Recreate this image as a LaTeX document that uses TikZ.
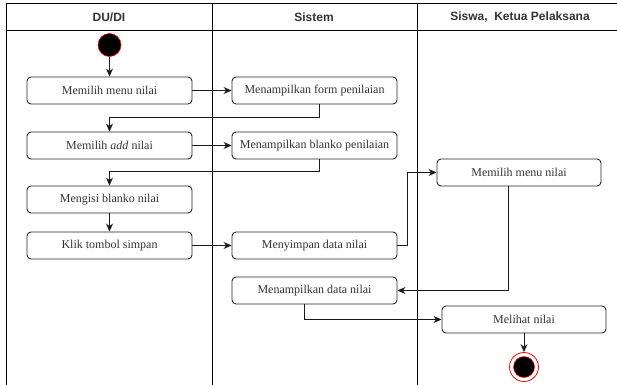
\documentclass[tikz,border=0pt]{standalone}
\usepackage{fontspec}
\setmainfont{Liberation Serif}
\newfontfamily\hdrfont{Liberation Sans}
\usetikzlibrary{arrows.meta,calc}
\begin{document}
\begin{tikzpicture}[x=1pt,y=-1pt,
  act/.style={draw=black!85,line width=0.9pt,rounded corners=4pt,minimum width=165pt,minimum height=27pt,
    inner sep=0pt,font=\fontsize{12}{14}\selectfont,text=black!80},
  lane/.style={draw=black,line width=1pt},
  hdr/.style={font=\hdrfont\bfseries\fontsize{12}{14}\selectfont,text=black!80},
  flow/.style={draw=black!90,line width=0.9pt,-{Stealth[length=8pt,width=7pt]}},
  startdot/.style={circle,fill=black,draw=red,line width=0.6pt,minimum size=23pt,inner sep=0pt},
]
\useasboundingbox (0,0) rectangle (617,385);

% swimlane frame
\draw[lane] (6,385) -- (6,4) -- (617,4);
\draw[lane] (6,31) -- (617,31);
\draw[lane] (212,4) -- (212,385);
\draw[lane] (417,4) -- (417,385);
\node[hdr] (h1) at (109,17.5) {DU/DI};
\node[hdr] (h2) at (314,17.5) {Sistem};
\node[hdr] (h3) at (520,17.5) {Siswa,\ \ Ketua Pelaksana};

% start node
\node[startdot] (start) at (109.5,45) {};

% activities: DU/DI
\node[act] (a1) at (109.5,90.5) {Memilih menu nilai};
\node[act] (a2) at (109.5,145.5) {Memilih \textit{add} nilai};
\node[act] (a3) at (109.5,199.5) {Mengisi blanko nilai};
\node[act] (a4) at (109.5,245.5) {Klik tombol simpan};

% activities: Sistem
\node[act] (s1) at (314.5,90.5) {Menampilkan form penilaian};
\node[act] (s2) at (314.5,145.5) {Menampilkan blanko penilaian};
\node[act] (s3) at (314.5,245.5) {Menyimpan data nilai};
\node[act] (s4) at (314.5,290.5) {Menampilkan data nilai};

% activities: Siswa, Ketua Pelaksana
\node[act,minimum width=164pt] (k1) at (519,172.5) {Memilih menu nilai};
\node[act,minimum width=164pt] (k2) at (524,319.5) {Melihat nilai};

% final node
\node[circle,draw=red,line width=0.8pt,fill=white,minimum size=29pt,inner sep=0pt] (endring) at (524,367) {};
\node[circle,fill=black,draw=red,line width=0.5pt,minimum size=21pt,inner sep=0pt] (enddot) at (endring.center) {};

% control flows
\draw[flow] (start) -- (a1);
\draw[flow] (a1) -- (s1);
\draw[flow] ($(s1.south)+(4.5,0)$) |- (109.5,117) -- (a2);
\draw[flow] (a2) -- (s2);
\draw[flow] ($(s2.south)+(4.5,0)$) |- (109.5,171.5) -- (a3);
\draw[flow] (a3) -- (a4);
\draw[flow] (a4) -- (s3);
\draw[flow] (s3.east) -- (407,245.5) |- (k1.west);
\draw[flow] ($(k1.south)+(-11,0)$) |- (s4.east);
\draw[flow] ($(s4.south)+(-10.5,0)$) |- (k2.west);
\draw[flow] (k2) -- (endring);
\end{tikzpicture}
\end{document}
